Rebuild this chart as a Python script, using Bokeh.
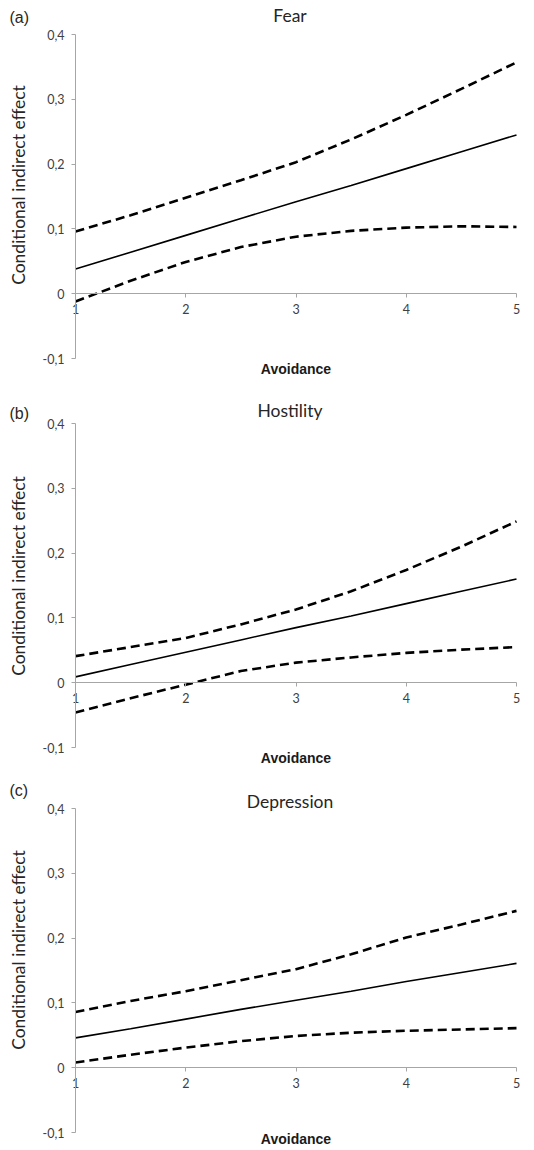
from bokeh.plotting import figure
from bokeh.layouts import column
from bokeh.models import Range1d, FixedTicker, Label, LinearAxis
from bokeh.embed import file_html
from bokeh.resources import INLINE

avoidance = [1, 1.5, 2, 2.5, 3, 3.5, 4, 4.5, 5]

fear_effect = [0.038, 0.064, 0.090, 0.116, 0.142, 0.167, 0.193, 0.219, 0.245]
fear_upper = [0.096, 0.121, 0.148, 0.175, 0.203, 0.238, 0.276, 0.316, 0.357]
fear_lower = [-0.012, 0.020, 0.049, 0.072, 0.088, 0.097, 0.102, 0.104, 0.103]

hostility_effect = [0.009, 0.028, 0.047, 0.066, 0.085, 0.103, 0.122, 0.141, 0.160]
hostility_upper = [0.041, 0.055, 0.069, 0.090, 0.113, 0.141, 0.174, 0.210, 0.249]
hostility_lower = [-0.046, -0.024, -0.003, 0.018, 0.031, 0.039, 0.046, 0.051, 0.055]

depression_effect = [0.046, 0.060, 0.075, 0.090, 0.104, 0.118, 0.133, 0.147, 0.161]
depression_upper = [0.086, 0.103, 0.118, 0.135, 0.152, 0.175, 0.201, 0.221, 0.242]
depression_lower = [0.008, 0.020, 0.031, 0.041, 0.049, 0.054, 0.057, 0.059, 0.061]

x_ticks = [1, 2, 3, 4, 5]
x_tick_labels = ["1", "2", "3", "4", "5"]
y_ticks = [-0.1, 0, 0.1, 0.2, 0.3, 0.4]
y_tick_labels = ["-0,1", "0", "0,1", "0,2", "0,3", "0,4"]
x_min, x_max = 1, 5
y_min, y_max = -0.1, 0.4

panels = [
    ("(a)", "Fear", fear_effect, fear_upper, fear_lower),
    ("(b)", "Hostility", hostility_effect, hostility_upper, hostility_lower),
    ("(c)", "Depression", depression_effect, depression_upper, depression_lower),
]

# ---- pixel layout (not data) ----
W = 534
LEFT_PX, RIGHT_PX = 75, 18          # space left of x=1 and right of x=5
PX_PER_UNIT_Y = 648                 # pixels per 1.0 on the y scale
# (figure height, px from top to y=0.4, tag lift, title lift, y-title span start, x-title standoff)
geom = [(385, 34, 17, 19, -0.064, 44), (387, 38, 10, 13, -0.07, 44), (378, 36, 18, 7, -0.036, 40)]

px_per_unit_x = (W - LEFT_PX - RIGHT_PX) / (x_max - x_min)

AXIS = "#a6a6a6"
TICKTXT = "#404040"
FONT = "Lato"
TXT = "#262626"

figs = []
for (tag, name, eff, up, lo), (h, top_px, tag_lift, title_lift, ylab_lo, xlab_sd) in zip(panels, geom):
    y_end = y_max + top_px / PX_PER_UNIT_Y
    y_start = y_end - h / PX_PER_UNIT_Y
    x_start = x_min - LEFT_PX / px_per_unit_x
    x_end = x_max + RIGHT_PX / px_per_unit_x

    p = figure(width=W, height=h, output_backend="svg", toolbar_location=None,
               title_location=None,
               x_range=Range1d(x_start, x_end), y_range=Range1d(y_start, y_end),
               x_axis_location=None, y_axis_location=None, min_border=0)
    p.outline_line_color = None
    p.grid.visible = False
    p.background_fill_color = "white"
    p.border_fill_color = "white"

    xa = LinearAxis(fixed_location=0, bounds=(x_min, x_max),
                    ticker=FixedTicker(ticks=x_ticks),
                    major_label_overrides={t: l for t, l in zip(x_ticks, x_tick_labels)},
                    axis_line_color=AXIS, major_tick_line_color=AXIS,
                    major_tick_out=4, major_tick_in=0, minor_tick_line_color=None,
                    major_label_text_font=FONT, major_label_text_font_size="12.5px",
                    major_label_text_color=TICKTXT, major_label_standoff=6,
                    axis_label="Avoidance", axis_label_text_font="Liberation Sans",
                    axis_label_text_font_size="14px", axis_label_text_font_style="bold",
                    axis_label_text_color="#1a1a1a", axis_label_standoff=xlab_sd)
    p.add_layout(xa, "below")

    ya = LinearAxis(fixed_location=x_min, bounds=(y_min, y_max),
                    ticker=FixedTicker(ticks=y_ticks),
                    major_label_overrides={t: l for t, l in zip(y_ticks, y_tick_labels)},
                    axis_line_color=AXIS, major_tick_line_color=AXIS,
                    major_tick_out=4, major_tick_in=0, minor_tick_line_color=None,
                    major_label_text_font=FONT, major_label_text_font_size="12.5px",
                    major_label_text_color=TICKTXT, major_label_standoff=7)
    p.add_layout(ya, "left")

    # y-axis title only (no line, no ticks), centred like the original
    ytitle = LinearAxis(fixed_location=x_min, bounds=(ylab_lo, y_max),
                        ticker=FixedTicker(ticks=[]),
                        axis_line_color=None, major_tick_line_color=None,
                        major_tick_out=0, major_tick_in=0, minor_tick_line_color=None,
                        axis_label="Conditional indirect effect", axis_label_text_font=FONT,
                        axis_label_text_font_size="17.5px", axis_label_text_font_style="normal",
                        axis_label_text_color=TXT, axis_label_standoff=47)
    p.add_layout(ytitle, "left")

    p.add_layout(Label(x=(x_min + x_max) / 2, y=y_max, x_offset=-6, y_offset=title_lift,
                       text=name, text_font=FONT, text_font_size="17.5px",
                       text_color=TXT, text_baseline="middle", text_align="center"))
    p.add_layout(Label(x=x_min, y=y_max, x_offset=-66, y_offset=tag_lift,
                       text=tag, text_font="Liberation Sans", text_font_size="16px",
                       text_color=TXT, text_baseline="middle", text_align="left"))

    p.line(avoidance, eff, line_color="black", line_width=1.6)
    p.line(avoidance, up, line_color="black", line_width=2.6, line_dash="9 5")
    p.line(avoidance, lo, line_color="black", line_width=2.6, line_dash="9 5")
    figs.append(p)

layout = column(*figs, spacing=0)
open("out.html", "w").write(file_html(layout, INLINE))
